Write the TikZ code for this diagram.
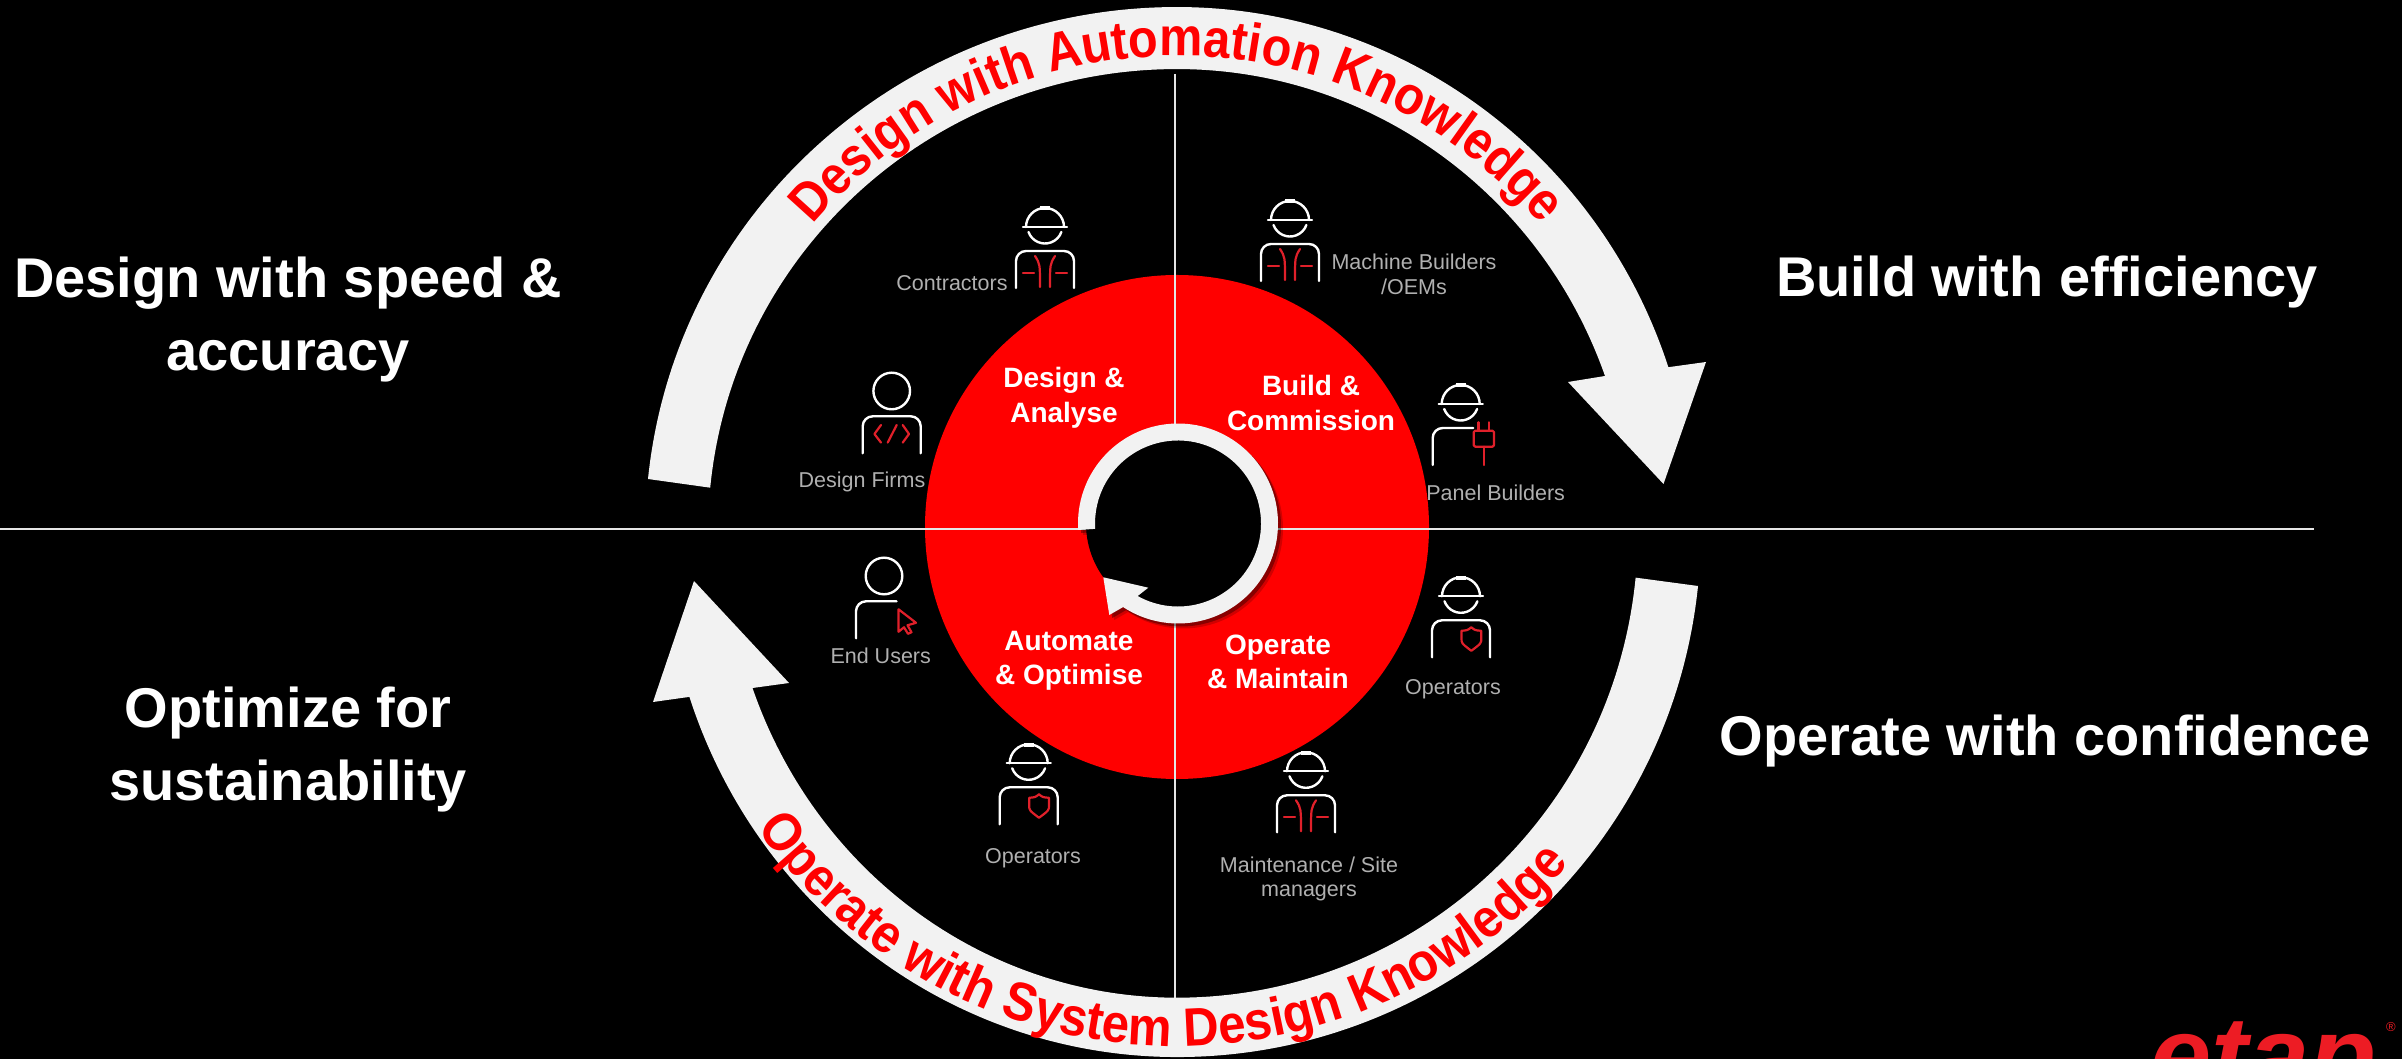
\documentclass[tikz,border=0pt]{standalone}
\usepackage{fontspec}
\setmainfont{Liberation Sans}
\newfontfamily\bandtopfam[FakeStretch=0.9]{Liberation Sans}
\newfontfamily\bandlowfam[FakeStretch=0.91]{Liberation Sans}
\usetikzlibrary{calc, decorations.text, shadows}
\definecolor{bandgray}{HTML}{F2F2F2}
\definecolor{hubred}{HTML}{FF0000}
\definecolor{iconred}{HTML}{E0202A}
\definecolor{rolegray}{HTML}{B0B0B0}
\definecolor{logored}{HTML}{ED1C24}
\definecolor{crossline}{HTML}{E6E6E6}
\newcommand{\bandtopfont}{\bandtopfam\fontsize{54}{60}\selectfont\bfseries\color{hubred}}
\newcommand{\bandlowfont}{\bandlowfam\fontsize{54}{60}\selectfont\bfseries\color{hubred}}
\tikzset{
    iconline/.style={draw=white, line width=2.4pt, line cap=round},
    iconred/.style={draw=iconred, line width=2.2pt, line cap=round, line join=round},
    sidelabel/.style={font=\fontsize{56}{73}\selectfont\bfseries, text=white, align=center},
    hublabel/.style={font=\fontsize{28}{34.5}\selectfont\bfseries, text=white, align=center},
    rolelabel/.style={font=\fontsize{21.5}{24.5}\selectfont, text=rolegray, align=center},
    hathead/.pic={
        \draw[iconline] (-22,61) -- (22,61);
        \draw[iconline] (-19,61) arc[start angle=180, end angle=0, radius=19];
        \draw[iconline] (-16.5,56) arc[start angle=200, end angle=340, radius=17.5];
        \fill[white] (-5,77.5) rectangle (5,81.5);
    },
    roundhead/.pic={
        \draw[iconline] (0,62.3) circle[radius=18.3];
    },
    fullbody/.pic={
        \draw[iconline, rounded corners=10pt] (-29,0) -- (-29,37) -- (29,37) -- (29,0);
    },
    halfbody/.pic={
        \draw[iconline, rounded corners=10pt] (-28,0) -- (-28,37) -- (12.5,37);
    },
    vestworker/.pic={
        \pic {hathead};
        \pic {fullbody};
        \draw[iconred] (-10,32) .. controls (-5,24) .. (-5,1);
        \draw[iconred] (10,32) .. controls (5,24) .. (5,1);
        \draw[iconred] (-22,15) -- (-11,15);
        \draw[iconred] (11,15) -- (22,15);
    },
    shieldworker/.pic={
        \pic {hathead};
        \pic {fullbody};
        \draw[iconred] (10.3,30) .. controls (14,27) .. (20.3,26.5) -- (20.3,19) .. controls (20.3,14) .. (10.3,6.5)
            .. controls (0.5,14) .. (0.5,19) -- (0.5,26.5) .. controls (6.5,27) .. cycle;
    },
    plugworker/.pic={
        \pic {hathead};
        \pic {halfbody};
        \draw[iconred, rounded corners=1.5pt] (13,18.3) rectangle (33.3,34.3);
        \draw[iconred] (17.7,34.3) -- (17.7,42.7);
        \draw[iconred] (28.3,34.3) -- (28.3,42.7);
        \draw[iconred] (23,18.3) -- (23,0);
    },
    codeperson/.pic={
        \pic {roundhead};
        \pic {fullbody};
        \draw[iconred] (-10.7,28.3) -- (-17.3,19.3) -- (-10.7,10.7);
        \draw[iconred] (-4,10.7) -- (5,28.3);
        \draw[iconred] (11,28.3) -- (17.3,19.3) -- (11,10.7);
    },
    cursorperson/.pic={
        \pic {roundhead};
        \pic {halfbody};
        \draw[iconred] (14.5,29) -- (32,15.5) -- (23.5,13) -- (27.5,6) -- (24,4.5) -- (20,11) -- (14.5,6.5) -- cycle;
    }
}
\begin{document}
\begin{tikzpicture}[x=1pt, y=1pt]
\path[use as bounding box] (0,0) rectangle (2402,1058);
\fill[black] (-5,-5) rectangle (2407,1063);
\coordinate (bigc) at (1177,526);
\coordinate (hubc) at (1177,531);
\coordinate (ringc) at (1178,534.5);

% hub and cross lines
\fill[hubred] (hubc) circle[radius=252];
\draw[crossline, line width=1.1pt] (-5,529) -- (2314,529);
\draw[crossline, line width=1.1pt] (1175,984) -- (1175,60);

% big arrows
\fill[bandgray] (648,579) arc[start angle=174.2, end angle=90, x radius=531.7, y radius=525]
    arc[start angle=90, end angle=18.3, x radius=517.6, y radius=525]
    -- (1706,696) -- (1663.5,574) -- (1568,676) -- (1605,682)
    arc[start angle=19.7, end angle=90, x radius=454.6, y radius=463]
    arc[start angle=90, end angle=174.5, x radius=469, y radius=463] -- cycle;
\fill[bandgray] (1698,472) arc[start angle=-5.9, end angle=-90, x radius=523.8, y radius=525]
    arc[start angle=-90, end angle=-161.7, x radius=513.6, y radius=525]
    -- (653,356) -- (694,477) -- (789,375) -- (752.5,370)
    arc[start angle=-160.4, end angle=-90, x radius=450.6, y radius=466]
    arc[start angle=-90, end angle=-5.66, x radius=460.9, y radius=466] -- cycle;
\path[decorate, decoration={text along path, text align=center,
    text={|\bandtopfont|Design with Automation Knowledge}}]
    ($(bigc)+(150:476)$) arc[start angle=150, end angle=30, radius=476];
\path[decorate, decoration={text along path, text align=center,
    text={|\bandlowfont|Operate with System Design Knowledge}}]
    ($(bigc)+(195:514)$) arc[start angle=195, end angle=340, radius=514];

% centre ring
\fill[black] (ringc) circle[radius=92];
\fill[bandgray, drop shadow={shadow xshift=5pt, shadow yshift=-5pt, opacity=.18, fill=black},
    drop shadow={shadow xshift=3pt, shadow yshift=-3pt, opacity=.35, fill=black}]
    ($(ringc)+(183.7:100)$) arc[start angle=183.7, end angle=-123.3, radius=100]
    -- (1109.3,443) -- (1103.3,480.7) -- (1148.3,470.3)
    -- ($(ringc)+(-119.1:83)$) arc[start angle=-119.1, end angle=183.7, radius=83] -- cycle;

% side texts
\node[sidelabel] (speed) at (288,738.5) {Design with speed \&\\accuracy};
\node[sidelabel] (build) at (2047,775.5) {Build with efficiency};
\node[sidelabel] (sustain) at (288,308) {Optimize for\\sustainability};
\node[sidelabel] (confid) at (2045,316.5) {Operate with confidence};

% hub texts
\node[hublabel] (design) at (1064,660) {Design \&\\Analyse};
\node[hublabel] (commission) at (1311,655) {Build \&\\Commission};
\node[hublabel] (automate) at (1069,397) {Automate\\\& Optimise};
\node[hublabel] (maintain) at (1278,396) {Operate\\\& Maintain};

% role icons
\pic (contractor) at (1045,770) {vestworker};
\pic (firm) at (891.7,604.7) {codeperson};
\pic (machine) at (1290,777) {vestworker};
\pic (panel) at (1460.7,593) {plugworker};
\pic (enduser) at (884,419.7) {cursorperson};
\pic (opleft) at (1028.7,233.7) {shieldworker};
\pic (opright) at (1461,400.7) {shieldworker};
\pic (sitemgr) at (1306,225.7) {vestworker};

% role texts
\node[rolelabel] (contractors) at (952,775.3) {Contractors};
\node[rolelabel] (firms) at (862,576.5) {Design Firms};
\node[rolelabel] (builders) at (1414,783.5) {Machine Builders\\/OEMs};
\node[rolelabel] (panels) at (1495.7,565) {Panel Builders};
\node[rolelabel] (users) at (880.7,402.3) {End Users};
\node[rolelabel] (opsleft) at (1033,200) {Operators};
\node[rolelabel] (opsright) at (1453,369) {Operators};
\node[rolelabel] (managers) at (1309,179) {Maintenance / Site\\managers};

% logo, cut by the page edge
\begin{scope}
\clip (0,0) rectangle (2402,1058);
\node[anchor=base west, inner sep=0pt, text=logored, font=\fontsize{110}{110}\selectfont\bfseries\itshape] (logo) at (2150,-35) {etap};
\end{scope}
\node[text=logored, inner sep=0pt, font=\fontsize{13}{13}\selectfont] (regmark) at (2391,31) {®};
\end{tikzpicture}
\end{document}
